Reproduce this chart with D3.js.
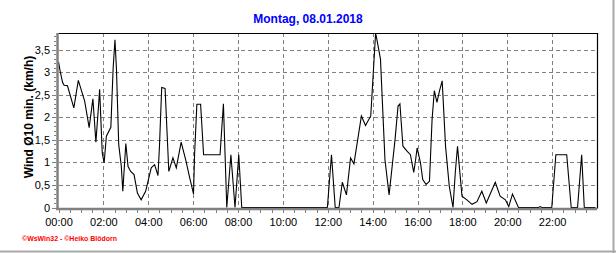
<!DOCTYPE html>
<html>
<head>
<meta charset="utf-8">
<script src="https://cdn.jsdelivr.net/npm/d3@7"></script>
<style>
  body { margin: 0; background: #fff; }
  svg { display: block; font-family: "Liberation Sans", Arial, sans-serif; }
  .grid line { stroke: #808080; stroke-dasharray: 4,3; shape-rendering: crispEdges; }
  .axis text { font-size: 11px; fill: #000; }
  .axis line { stroke: #808080; shape-rendering: crispEdges; }
  .axis path { display: none; }
</style>
</head>
<body>
<svg width="616" height="253"></svg>
<script>
const svg = d3.select("svg");

const title = "Montag, 08.01.2018";
const yLabel = "Wind \u00D810 min. (km/h)";
const footer = "\u00A9WsWin32 - \u00A9Heiko Bl\u00F6dorn";

// minutes since midnight / wind in km/h
const times = [0, 5, 11, 15, 24, 41, 53, 70, 82, 92, 100, 107, 110, 117, 122, 128, 140, 146, 151, 155,
  161, 168, 172, 180, 186, 193, 202, 211, 221, 233, 248, 257, 266, 270, 276, 285, 295, 306, 315, 328,
  341, 350, 361, 364, 370, 380, 388, 432, 441, 450, 461, 472, 482, 490, 719, 730, 740, 750, 759, 770,
  781, 790, 810, 821, 835, 848, 852, 861, 873, 884, 900, 908, 913, 921, 932, 941, 950, 955, 959, 968,
  974, 983, 992, 999, 1005, 1012, 1019, 1026, 1035, 1045, 1055, 1061, 1067, 1079, 1092, 1106, 1119, 1132, 1144, 1168,
  1181, 1195, 1204, 1214, 1230, 1284, 1288, 1292, 1319, 1330, 1359, 1371, 1388, 1399, 1406, 1436];
const wind = [3.23, 3.0, 2.77, 2.71, 2.70, 2.21, 2.82, 2.36, 1.77, 2.41, 1.45, 2.25, 2.62, 1.21, 0.99, 1.58, 1.78, 3.07, 3.72, 3.07,
  1.40, 0.91, 0.36, 1.42, 0.91, 0.80, 0.73, 0.32, 0.17, 0.36, 0.88, 0.95, 0.71, 1.36, 2.66, 2.64, 0.80, 1.10, 0.88, 1.45,
  1.03, 0.69, 0.30, 1.2, 2.29, 2.29, 1.17, 1.17, 2.30, 0, 1.17, 0, 1.17, 0, 0, 1.17, 0, 0, 0.56, 0.28,
  1.10, 0.97, 2.03, 1.82, 2.03, 3.87, 3.7, 3.29, 1.06, 0.28, 1.51, 2.25, 2.30, 1.36, 1.25, 1.17, 0.78, 1.06, 1.32, 0.99,
  0.62, 0.51, 0.58, 1.95, 2.59, 2.33, 2.59, 2.81, 1.36, 0.47, 0, 0.77, 1.36, 0.25, 0.17, 0.07, 0.13, 0.36, 0.10, 0.56,
  0.25, 0.17, 0.02, 0.30, 0, 0, 0.02, 0, 0, 1.17, 1.17, 0, 0, 1.17, 0, 0];

const xMajor = d3.range(0, 1440, 120);
const xMinor = d3.range(0, 1440, 30);
const yMajor = [0, 0.5, 1, 1.5, 2, 2.5, 3, 3.5];
const yMinor = d3.range(0, 3.85, 0.1);

const plotLeft = 58.5, plotRight = 597, plotTop = 33, plotBottom = 207.5;

const x = d3.scaleLinear().domain([0, 1440]).range([plotLeft, plotRight]);
const y = d3.scaleLinear().domain([0, 3.87]).range([plotBottom, plotTop]);

const de = d3.formatLocale({decimal: ",", thousands: ".", grouping: [3], currency: ["", "\u20AC"]});
const fmtY = de.format("~g");
const fmtX = m => String(m / 60).padStart(2, "0") + ":00";

// outer window frame
svg.append("line").attr("x1", 613.5).attr("x2", 613.5).attr("y1", 0).attr("y2", 253)
  .attr("stroke", "#a8a8a8").attr("stroke-width", 2);
svg.append("line").attr("x1", 0).attr("x2", 616).attr("y1", 251.5).attr("y2", 251.5)
  .attr("stroke", "#a8a8a8").attr("stroke-width", 2);

svg.append("text")
  .attr("x", 308).attr("y", 23)
  .attr("text-anchor", "middle")
  .style("font-size", "12px").style("font-weight", "bold")
  .attr("fill", "#0000ff")
  .text(title);

// grid
const grid = svg.append("g").attr("class", "grid");
grid.selectAll("line.h")
  .data(yMajor.filter(d => d > 0))
  .enter().append("line")
  .attr("x1", plotLeft).attr("x2", plotRight)
  .attr("y1", d => Math.round(y(d)) + 0.5).attr("y2", d => Math.round(y(d)) + 0.5);
grid.selectAll("line.v")
  .data(xMajor.filter(d => d > 0))
  .enter().append("line")
  .attr("y1", plotTop).attr("y2", plotBottom)
  .attr("x1", d => Math.round(x(d)) + 0.5).attr("x2", d => Math.round(x(d)) + 0.5);

// top + right border
svg.append("path")
  .attr("d", `M${plotLeft},${plotTop + 0.5}H${plotRight + 0.5}V${plotBottom + 1}`)
  .attr("fill", "none").attr("stroke", "#000").attr("stroke-width", 1.2);

// data
const line = d3.line()
  .x((d, i) => x(times[i]))
  .y(d => y(d));
svg.append("path")
  .datum(wind)
  .attr("d", line)
  .attr("fill", "none")
  .attr("stroke", "#000")
  .attr("stroke-width", 1.1);

// grey axis bars
svg.append("line").attr("x1", 57.5).attr("x2", 57.5).attr("y1", plotTop).attr("y2", 210)
  .attr("stroke", "#808080").attr("stroke-width", 2.5);
svg.append("line").attr("x1", 56).attr("x2", plotRight).attr("y1", 209).attr("y2", 209)
  .attr("stroke", "#808080").attr("stroke-width", 2.5);

// x axis
svg.append("g").attr("class", "axis")
  .attr("transform", "translate(0,209)")
  .call(d3.axisBottom(x).tickValues(xMinor).tickSize(4).tickSizeOuter(0).tickFormat(""));
svg.append("g").attr("class", "axis")
  .attr("transform", "translate(0,209)")
  .call(d3.axisBottom(x).tickValues(xMajor).tickSize(4).tickPadding(5).tickSizeOuter(0).tickFormat(fmtX));

// y axis
svg.append("g").attr("class", "axis")
  .attr("transform", "translate(56,0)")
  .call(d3.axisLeft(y).tickValues(yMinor).tickSize(2).tickSizeOuter(0).tickFormat(""));
svg.append("g").attr("class", "axis")
  .attr("transform", "translate(56,0)")
  .call(d3.axisLeft(y).tickValues(yMajor).tickSize(4).tickPadding(2).tickSizeOuter(0).tickFormat(fmtY));

svg.append("text")
  .attr("transform", "translate(33,117) rotate(-90)")
  .attr("text-anchor", "middle")
  .style("font-size", "12px").style("font-weight", "bold")
  .text(yLabel);

svg.append("text")
  .attr("x", 22).attr("y", 241)
  .attr("fill", "#ff0000")
  .style("font-size", "7px").style("font-weight", "bold")
  .attr("textLength", 95).attr("lengthAdjust", "spacingAndGlyphs")
  .text(footer);
</script>
</body>
</html>
